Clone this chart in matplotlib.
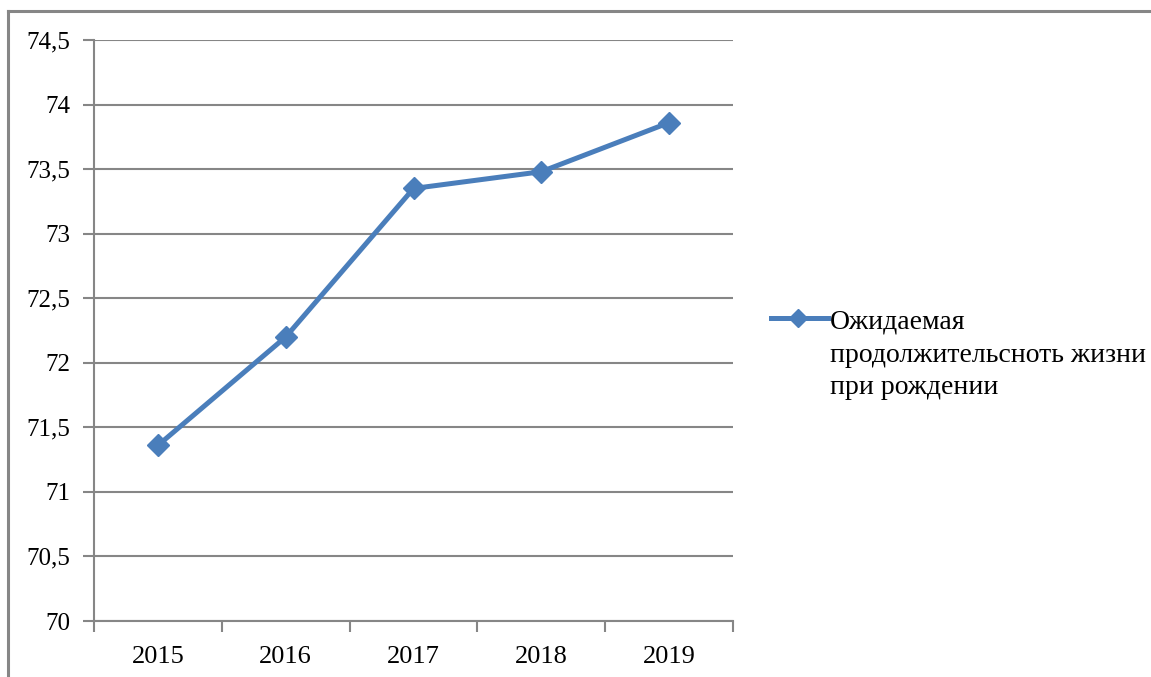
import matplotlib
matplotlib.use('Agg')
import matplotlib.pyplot as plt
from matplotlib.lines import Line2D

# данные
years = ['2015', '2016', '2017', '2018', '2019']
life_exp = [71.36, 72.2, 73.35, 73.48, 73.86]
legend_lines = ['Ожидаемая', 'продолжительсноть жизни', 'при рождении']

plt.rcParams['font.family'] = ['Liberation Serif', 'DejaVu Serif']
line_color = '#4A7EBB'
grid_color = '#868686'

W, H = 1151, 677
fig = plt.figure(figsize=(W / 100, H / 100), dpi=100)
ax = fig.add_axes([94 / W, 1 - 621 / H, (733 - 94) / W, (621 - 40) / H])

x = list(range(len(years)))
ax.plot(x, life_exp, color=line_color, lw=3.6, marker='D', markersize=11,
        markeredgecolor=line_color, zorder=3)

ax.set_xlim(-0.5, len(years) - 0.5)
ax.set_ylim(70, 74.5)

yt = [70 + 0.5 * i for i in range(10)]
ax.set_yticks(yt)
ax.set_yticklabels([('%g' % v).replace('.', ',') for v in yt], fontsize=18)
ax.yaxis.grid(True, color=grid_color, lw=1.5)
ax.set_axisbelow(True)

ax.set_xticks([i - 0.5 for i in range(len(years) + 1)])
ax.set_xticklabels([])
ax.set_xticks(x, minor=True)
ax.set_xticklabels(years, minor=True, fontsize=19)
ax.tick_params(axis='x', which='major', length=8, color=grid_color, width=1.5)
ax.tick_params(axis='x', which='minor', length=0, pad=18)
ax.tick_params(axis='y', length=8, color=grid_color, width=1.5, pad=9)

for s in ['top', 'right']:
    ax.spines[s].set_visible(False)
for s in ['left', 'bottom']:
    ax.spines[s].set_color(grid_color)
    ax.spines[s].set_linewidth(1.5)

# легенда
ky = 1 - 318 / H
fig.add_artist(Line2D([771 / W, 828 / W], [ky, ky], color=line_color, lw=3.6))
fig.add_artist(Line2D([798 / W], [ky], color=line_color, marker='D', markersize=9))
for i, t in enumerate(legend_lines):
    fig.text(830 / W, 1 - (322 + 33 * i) / H, t, fontsize=20, va='center', ha='left')

# рамка
fig.add_artist(Line2D([8 / W, 1], [1 - 11 / H, 1 - 11 / H], color=grid_color, lw=2.2))
fig.add_artist(Line2D([8 / W, 8 / W], [0, 1 - 11 / H], color=grid_color, lw=2.2))

fig.savefig('out.png', dpi=100)
